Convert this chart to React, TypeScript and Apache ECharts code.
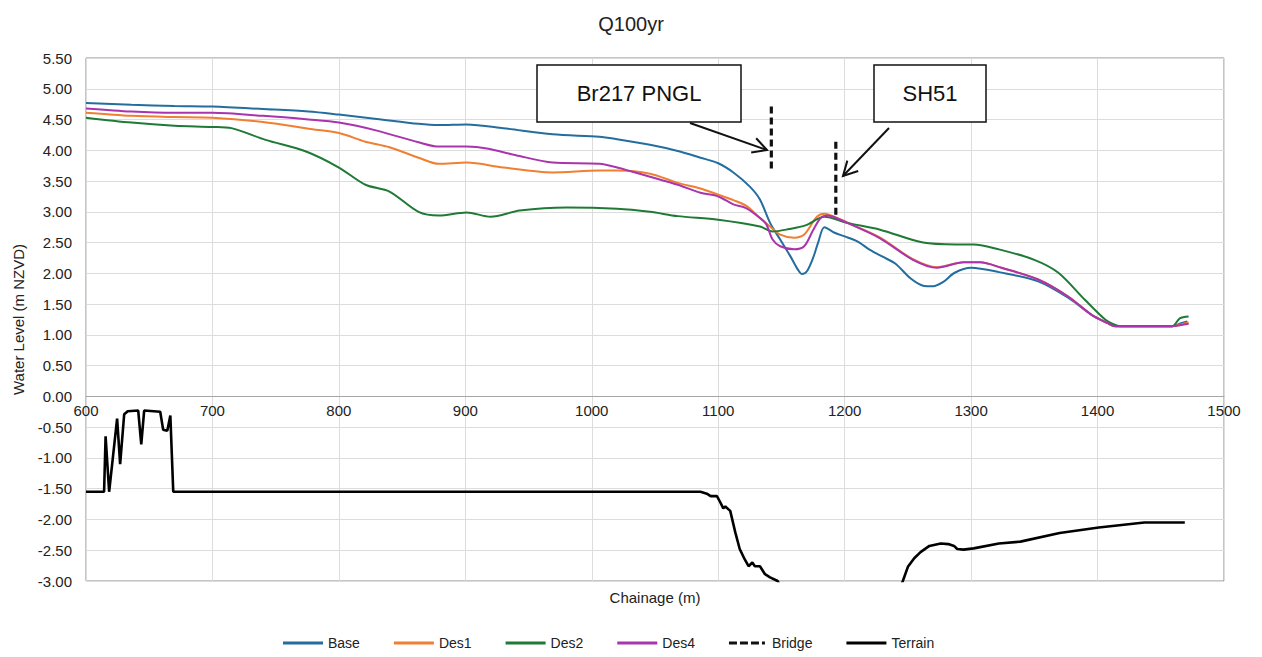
import React, { useEffect, useRef } from "react";
import * as echarts from "echarts";

// ---------- DATA ----------
const xTicks = [600, 700, 800, 900, 1000, 1100, 1200, 1300, 1400, 1500];

const chBase = [600, 636, 670, 700, 740, 776, 800, 830, 863, 879, 901, 930, 969, 1006, 1020, 1046, 1068, 1086, 1100, 1112, 1125, 1133, 1141, 1149, 1157, 1163, 1166, 1170, 1175, 1179, 1184, 1192, 1200, 1210, 1220, 1230, 1240, 1252, 1262, 1270, 1278, 1287, 1300, 1322, 1353, 1377, 1395, 1408, 1414, 1440, 1459, 1466, 1471];
const lvBase = [4.77, 4.74, 4.72, 4.71, 4.67, 4.63, 4.58, 4.51, 4.43, 4.41, 4.42, 4.36, 4.26, 4.22, 4.18, 4.09, 3.99, 3.88, 3.79, 3.64, 3.41, 3.2, 2.82, 2.55, 2.28, 2.06, 1.99, 2.03, 2.25, 2.5, 2.75, 2.66, 2.6, 2.52, 2.38, 2.27, 2.16, 1.92, 1.8, 1.79, 1.86, 2.01, 2.09, 2.02, 1.87, 1.6, 1.33, 1.19, 1.14, 1.14, 1.14, 1.19, 1.22];

const chDes1 = [600, 636, 670, 700, 740, 776, 800, 821, 840, 863, 879, 901, 930, 969, 1006, 1020, 1046, 1068, 1086, 1100, 1112, 1122, 1133, 1141, 1149, 1160, 1168, 1178, 1184, 1194, 1207, 1229, 1254, 1273, 1294, 1307, 1324, 1353, 1377, 1395, 1408, 1414, 1459, 1466, 1472];
const lvDes1 = [4.61, 4.56, 4.54, 4.53, 4.46, 4.35, 4.28, 4.14, 4.05, 3.88, 3.78, 3.8, 3.72, 3.64, 3.67, 3.67, 3.62, 3.47, 3.38, 3.28, 3.19, 3.1, 2.9, 2.76, 2.63, 2.58, 2.63, 2.92, 2.97, 2.9, 2.78, 2.57, 2.23, 2.1, 2.18, 2.18, 2.09, 1.9, 1.62, 1.33, 1.19, 1.14, 1.14, 1.17, 1.2];

const chDes2 = [600, 636, 670, 700, 715, 742, 774, 800, 821, 840, 863, 879, 901, 920, 943, 980, 1020, 1046, 1068, 1100, 1133, 1143, 1156, 1169, 1184, 1202, 1228, 1262, 1288, 1302, 1322, 1350, 1369, 1390, 1406, 1413, 1418, 1459, 1465, 1472];
const lvDes2 = [4.53, 4.45, 4.4, 4.38, 4.36, 4.17, 3.98, 3.72, 3.44, 3.33, 3.0, 2.94, 2.99, 2.92, 3.02, 3.07, 3.05, 3.0, 2.93, 2.87, 2.76, 2.68, 2.72, 2.78, 2.92, 2.82, 2.71, 2.5, 2.47, 2.47, 2.39, 2.22, 2.01, 1.57, 1.25, 1.17, 1.14, 1.14, 1.27, 1.3];

const chDes4 = [600, 636, 670, 700, 740, 776, 800, 830, 863, 879, 901, 917, 940, 969, 1006, 1020, 1046, 1068, 1086, 1100, 1112, 1122, 1133, 1138, 1143, 1149, 1160, 1168, 1175, 1181, 1186, 1202, 1228, 1254, 1273, 1294, 1307, 1324, 1353, 1377, 1395, 1408, 1414, 1459, 1466, 1472];
const lvDes4 = [4.68, 4.63, 4.61, 4.61, 4.56, 4.5, 4.45, 4.32, 4.13, 4.06, 4.06, 4.03, 3.92, 3.8, 3.78, 3.72, 3.57, 3.44, 3.31, 3.25, 3.12, 3.06, 2.9, 2.8, 2.55, 2.44, 2.39, 2.44, 2.7, 2.9, 2.94, 2.82, 2.57, 2.22, 2.09, 2.18, 2.18, 2.09, 1.9, 1.62, 1.33, 1.19, 1.14, 1.14, 1.16, 1.18];

// Bridge piers (two separate vertical dashed segments, null = gap)
const chBridge = [1142, 1142, null, 1193, 1193];
const lvBridge = [4.71, 3.67, null, 4.14, 2.95];

const chTerrain = [600, 614.3, 615.5, 618.3, 624.6, 627, 630.2, 633, 641.3, 643.7, 646, 658.7, 661, 664.3, 666.7, 669, 1086, 1091, 1094, 1099, 1101.6, 1104, 1105.6, 1109.5, 1113.5, 1117, 1121, 1124, 1127, 1129, 1133, 1137, 1141, 1147, 1155, 1240, 1246, 1250, 1255, 1260, 1267, 1276, 1282, 1286.5, 1289, 1294, 1302, 1322, 1339, 1370, 1401, 1437, 1469];
const lvTerrain = [-1.55, -1.55, -0.65, -1.55, -0.36, -1.1, -0.29, -0.24, -0.23, -0.78, -0.23, -0.25, -0.54, -0.56, -0.31, -1.55, -1.55, -1.58, -1.62, -1.62, -1.72, -1.82, -1.79, -1.86, -2.21, -2.48, -2.65, -2.76, -2.7, -2.76, -2.76, -2.89, -2.94, -3.0, -3.3, -3.3, -3.0, -2.77, -2.63, -2.53, -2.43, -2.39, -2.4, -2.43, -2.48, -2.49, -2.47, -2.39, -2.36, -2.22, -2.13, -2.05, -2.05];

const seriesNames = ["Base", "Des1", "Des2", "Des4", "Bridge", "Terrain"];
const colors = ["#236e9e", "#f07f32", "#1f7a36", "#a934ad", "#111111", "#000000"];

const zip = (xs: (number | null)[], ys: (number | null)[]) =>
  xs.map((x, i) => (x === null || ys[i] === null ? ["-", "-"] : [x, ys[i]]));

const FONT = "'Liberation Sans', Arial, sans-serif";

// legend icons: solid bar and dashed bar (drawn as filled rects)
const ICON_SOLID = "path://M0,0H40V3H0Z";
const ICON_DASH = "path://M0,0H8V3H0Z M11,0H19V3H11Z M22,0H30V3H22Z M33,0H36V3H33Z";

export default function App() {
  const ref = useRef<HTMLDivElement>(null);

  useEffect(() => {
    const chart = echarts.init(ref.current!, null, { renderer: "svg" });

    const GRID_TOP = 58, GRID_BOTTOM = 76, H = 657;
    const yMin = -3, yMax = 5.5;
    const gridH = H - GRID_TOP - GRID_BOTTOM;
    const zeroOffset = -gridH * ((0 - yMin) / (yMax - yMin));

    const lineSeries = (name: string, data: any[], color: string, width: number, type: any = "solid") => ({
      name,
      type: "line",
      data,
      symbol: "none",
      smooth: name === "Terrain" || name === "Bridge" ? false : 0.3,
      connectNulls: false,
      clip: true,
      lineStyle: { color, width, type },
      itemStyle: { color },
      z: name === "Bridge" ? 5 : 3,
    });

    chart.setOption({
      animation: false,
      backgroundColor: "#ffffff",
      textStyle: { fontFamily: FONT },
      title: {
        text: "Q100yr",
        left: "center",
        top: 9,
        textStyle: { fontSize: 20, fontWeight: "normal", color: "#222", fontFamily: FONT },
      },
      grid: {
        left: 86,
        right: 38,
        top: GRID_TOP,
        bottom: GRID_BOTTOM,
        show: true,
        borderColor: "#8a8a8a",
        borderWidth: 1,
      },
      legend: {
        data: seriesNames.map((n) => ({ name: n, icon: n === "Bridge" ? ICON_DASH : ICON_SOLID })),
        bottom: 2,
        left: 278,
        itemWidth: 40,
        itemHeight: 3,
        itemGap: 34,
        textStyle: { fontSize: 14, color: "#222", fontFamily: FONT },
      },
      xAxis: {
        type: "value",
        min: xTicks[0],
        max: xTicks[xTicks.length - 1],
        interval: 100,
        offset: zeroOffset,
        axisLine: { onZero: false, lineStyle: { color: "#a6a6a6", width: 1 } },
        axisTick: { show: false },
        axisLabel: { fontSize: 15, color: "#222", margin: 7, fontFamily: FONT, formatter: (v: number) => String(v) },
        splitLine: { show: true, lineStyle: { color: "#dcdcdc", width: 1 } },
      },
      yAxis: {
        type: "value",
        min: yMin,
        max: yMax,
        interval: 0.5,
        name: "Water Level (m NZVD)",
        nameLocation: "middle",
        nameGap: 60,
        nameTextStyle: { fontSize: 15, color: "#222", fontFamily: FONT },
        axisLine: { show: false },
        axisTick: { show: false },
        axisLabel: {
          fontSize: 15,
          color: "#222",
          margin: 14,
          fontFamily: FONT,
          formatter: (v: number) => v.toFixed(2),
        },
        splitLine: { show: true, lineStyle: { color: "#dcdcdc", width: 1 } },
      },
      series: [
        lineSeries("Base", zip(chBase, lvBase), colors[0], 2),
        lineSeries("Des1", zip(chDes1, lvDes1), colors[1], 2),
        lineSeries("Des2", zip(chDes2, lvDes2), colors[2], 2),
        lineSeries("Des4", zip(chDes4, lvDes4), colors[3], 2),
        lineSeries("Bridge", zip(chBridge, lvBridge), colors[4], 3.2, [7, 4]),
        lineSeries("Terrain", zip(chTerrain, lvTerrain), colors[5], 2.6),
      ],
    });

    // Callout annotations
    const arrow = (x1: number, y1: number, x2: number, y2: number) => {
      const dx = x2 - x1, dy = y2 - y1;
      const len = Math.hypot(dx, dy);
      const ux = dx / len, uy = dy / len;
      const h = 16, a = (28 * Math.PI) / 180;
      const rot = (s: number) => [
        x2 - h * (ux * Math.cos(s * a) - uy * Math.sin(s * a)),
        y2 - h * (ux * Math.sin(s * a) + uy * Math.cos(s * a)),
      ];
      const stroke = { stroke: "#111", lineWidth: 2 };
      return [
        { type: "line", shape: { x1, y1, x2, y2 }, style: stroke, z: 20 },
        { type: "polyline", shape: { points: [rot(1), [x2, y2], rot(-1)] }, style: { ...stroke, fill: null }, z: 20 },
      ];
    };
    const box = (x: number, y: number, w: number, h: number, text: string) => [
      { type: "rect", shape: { x, y, width: w, height: h }, style: { fill: "#fff", stroke: "#111", lineWidth: 1.5 }, z: 20 },
      {
        type: "text",
        x: x + w / 2,
        y: y + h / 2,
        style: { text, fontSize: 22, fill: "#111", fontFamily: FONT, align: "center", verticalAlign: "middle" },
        z: 21,
      },
    ];

    chart.setOption({
      graphic: [
        ...box(537, 65, 204, 57, "Br217 PNGL"),
        ...box(874, 65, 112, 57, "SH51"),
        ...arrow(690, 123, 767, 150),
        ...arrow(889, 128, 843, 176),
        {
          type: "text",
          x: 655,
          y: 597,
          style: { text: "Chainage (m)", fontSize: 15, fill: "#222", fontFamily: FONT, align: "center", verticalAlign: "middle" },
        },
      ],
    });

    return () => chart.dispose();
  }, []);

  return (
    <div
      ref={ref}
      style={{ position: "fixed", left: 0, top: 0, width: 1262, height: 657, background: "#fff" }}
    />
  );
}
